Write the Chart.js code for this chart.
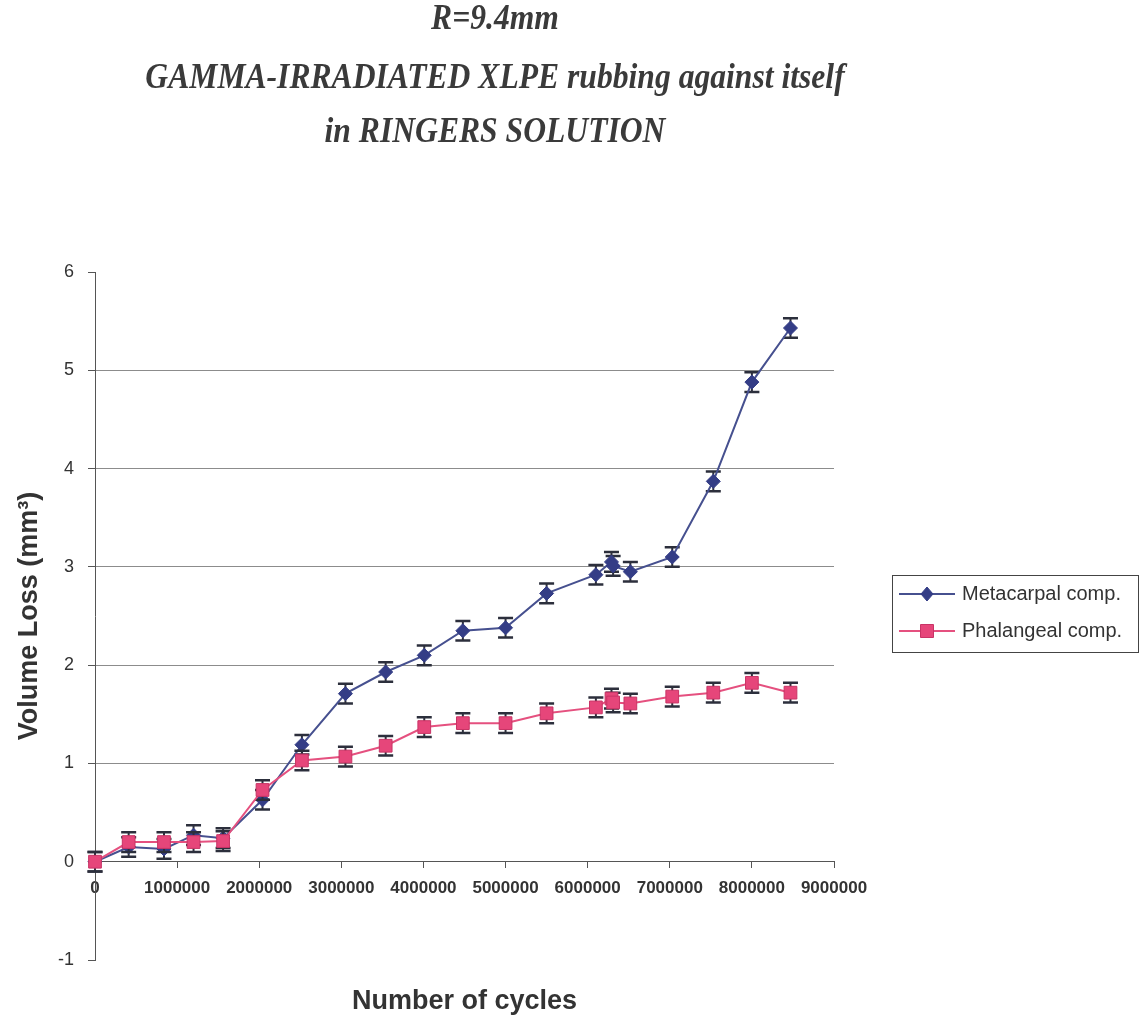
<!DOCTYPE html>
<html>
<head>
<meta charset="utf-8">
<script src="https://cdn.jsdelivr.net/npm/chart.js@4.4.1/dist/chart.umd.min.js"></script>
<style>
  html, body { margin: 0; padding: 0; background: #ffffff; }
  #wrap { width: 1143px; height: 1015px; }
</style>
</head>
<body>
<div id="wrap"><canvas id="c" width="1143" height="1015"></canvas></div>
<script>
// Wear test: cumulative volume loss against number of cycles
const cycles = [0, 410000, 840000, 1200000, 1560000, 2040000, 2520000, 3050000, 3540000, 4010000,
                4480000, 5000000, 5500000, 6100000, 6290000, 6310000, 6520000, 7030000, 7530000, 8000000, 8470000];
const metacarpal = [0, 0.15, 0.13, 0.27, 0.24, 0.63, 1.19, 1.71, 1.93, 2.10,
                    2.35, 2.38, 2.73, 2.92, 3.05, 3.01, 2.95, 3.10, 3.87, 4.88, 5.43];
const metacarpalErr = [0.1, 0.1, 0.1, 0.1, 0.1, 0.1, 0.1, 0.1, 0.1, 0.1,
                       0.1, 0.1, 0.1, 0.1, 0.1, 0.1, 0.1, 0.1, 0.1, 0.1, 0.1];
const phalangeal = [0, 0.20, 0.20, 0.20, 0.21, 0.73, 1.03, 1.07, 1.18, 1.37,
                    1.41, 1.41, 1.51, 1.57, 1.66, 1.62, 1.61, 1.68, 1.72, 1.82, 1.72];
const phalangealErr = [0.1, 0.1, 0.1, 0.1, 0.1, 0.1, 0.1, 0.1, 0.1, 0.1,
                       0.1, 0.1, 0.1, 0.1, 0.1, 0.1, 0.1, 0.1, 0.1, 0.1, 0.1];
const seriesNames = ['Metacarpal comp.', 'Phalangeal comp.'];
const xTicks = [0, 1000000, 2000000, 3000000, 4000000, 5000000, 6000000, 7000000, 8000000, 9000000];
const yTicks = [-1, 0, 1, 2, 3, 4, 5, 6];
const titleLines = ['R=9.4mm', 'GAMMA-IRRADIATED XLPE rubbing against itself', 'in RINGERS SOLUTION'];
const xTitle = 'Number of cycles';
const yTitle = 'Volume Loss (mm\u00B3)';

const SANS = '"Liberation Sans", Arial, sans-serif';
const TEXT = '#333333';
const AXIS = '#555555';

Chart.defaults.font.family = SANS;
Chart.defaults.color = TEXT;

const toPoints = (xs, ys) => xs.map((x, i) => ({ x: x, y: ys[i] }));

// vertical error bars with caps, drawn under each series' line and markers
const errorBars = {
  id: 'errorBars',
  beforeDatasetDraw(chart, args) {
    const ds = chart.data.datasets[args.index];
    if (!ds.errors) return;
    const ys = chart.scales.y;
    const ctx = chart.ctx;
    ctx.save();
    ctx.strokeStyle = '#2c2f3c';
    args.meta.data.forEach((pt, i) => {
      const v = ds.data[i].y, e = ds.errors[i];
      const top = ys.getPixelForValue(v + e);
      const bot = ys.getPixelForValue(v - e);
      ctx.lineWidth = 2;
      ctx.beginPath();
      ctx.moveTo(pt.x, top); ctx.lineTo(pt.x, bot);
      ctx.stroke();
      ctx.lineWidth = 2.5;
      ctx.beginPath();
      ctx.moveTo(pt.x - 7.5, top); ctx.lineTo(pt.x + 7.5, top);
      ctx.moveTo(pt.x - 7.5, bot); ctx.lineTo(pt.x + 7.5, bot);
      ctx.stroke();
    });
    ctx.restore();
  }
};

// three-line heading in bold italic serif, slightly tall letterforms
const heading = {
  id: 'heading',
  afterDraw(chart) {
    const ctx = chart.ctx;
    const ys = [20, 79, 133];
    ctx.save();
    ctx.fillStyle = '#3a3a3a';
    ctx.font = 'italic bold 31px "Liberation Serif", "Times New Roman", serif';
    ctx.textAlign = 'center';
    ctx.textBaseline = 'middle';
    titleLines.forEach((t, i) => {
      ctx.save();
      ctx.translate(495, ys[i]);
      ctx.scale(1.02, 1.18);
      ctx.fillText(t, 0, 0);
      ctx.restore();
    });
    ctx.restore();
  }
};

// boxed legend to the right of the plot
const boxLegend = {
  id: 'boxLegend',
  afterDraw(chart) {
    const ctx = chart.ctx;
    const bx = 892.5, by = 575.5, bw = 246, bh = 77;
    ctx.save();
    ctx.strokeStyle = '#444444';
    ctx.lineWidth = 1;
    ctx.strokeRect(bx, by, bw, bh);
    const rows = [594, 631];
    chart.data.datasets.forEach((ds, i) => {
      const y = rows[i];
      ctx.strokeStyle = ds.borderColor;
      ctx.lineWidth = 2;
      ctx.beginPath();
      ctx.moveTo(899, y); ctx.lineTo(955, y);
      ctx.stroke();
      ctx.fillStyle = ds.pointBackgroundColor;
      ctx.strokeStyle = ds.pointBorderColor;
      ctx.lineWidth = ds.pointBorderWidth;
      ctx.beginPath();
      if (ds.pointStyle === 'rect') {
        ctx.rect(927 - 6.5, y - 6.5, 13, 13);
      } else {
        ctx.moveTo(927 - 6, y); ctx.lineTo(927, y - 7); ctx.lineTo(927 + 6, y); ctx.lineTo(927, y + 7);
        ctx.closePath();
      }
      ctx.fill();
      ctx.stroke();
      ctx.fillStyle = TEXT;
      ctx.font = '20px ' + SANS;
      ctx.textAlign = 'left';
      ctx.textBaseline = 'middle';
      ctx.fillText(ds.label, 962, y);
    });
    ctx.restore();
  }
};

new Chart(document.getElementById('c'), {
  type: 'line',
  data: {
    datasets: [
      {
        label: seriesNames[0],
        data: toPoints(cycles, metacarpal),
        errors: metacarpalErr,
        order: 1,
        borderColor: '#46508f',
        borderWidth: 2,
        pointStyle: 'rectRot',
        pointRadius: 7,
        pointBackgroundColor: '#343d86',
        pointBorderColor: '#343d86',
        pointBorderWidth: 1,
        tension: 0,
        clip: false
      },
      {
        label: seriesNames[1],
        data: toPoints(cycles, phalangeal),
        errors: phalangealErr,
        order: 0,
        borderColor: '#e5507f',
        borderWidth: 2,
        pointStyle: 'rect',
        pointRadius: 9,
        pointBackgroundColor: '#e6467a',
        pointBorderColor: '#c93466',
        pointBorderWidth: 1,
        tension: 0,
        clip: false
      }
    ]
  },
  options: {
    responsive: false,
    animation: false,
    devicePixelRatio: 1,
    layout: { padding: { top: 272, right: 309, bottom: 0, left: 0 } },
    plugins: {
      legend: { display: false },
      title: { display: false },
      tooltip: { enabled: false }
    },
    scales: {
      x: {
        type: 'linear',
        position: { y: 0 },
        min: 0,
        max: 9000000,
        afterBuildTicks: s => { s.ticks = xTicks.map(v => ({ value: v })); },
        ticks: {
          autoSkip: false,
          maxRotation: 0,
          padding: 10,
          color: TEXT,
          font: { size: 17, weight: 'bold' },
          callback: v => String(v)
        },
        grid: { drawOnChartArea: false, drawTicks: true, tickLength: 6, tickColor: AXIS },
        border: { display: true, color: AXIS, width: 1 }
      },
      x2: {
        type: 'linear',
        axis: 'x',
        position: 'bottom',
        min: 0,
        max: 1,
        grid: { display: false, drawTicks: false },
        border: { display: false },
        ticks: { display: false },
        title: {
          display: true,
          text: xTitle,
          color: TEXT,
          font: { size: 27, weight: 'bold', lineHeight: 1 },
          padding: { top: 0, bottom: 0 }
        },
        afterFit: s => { s.height = 55; }
      },
      y: {
        type: 'linear',
        position: 'left',
        min: -1,
        max: 6,
        afterBuildTicks: s => { s.ticks = yTicks.map(v => ({ value: v })); },
        afterFit: s => { s.width = 95; },
        ticks: {
          padding: 14,
          color: TEXT,
          font: { size: 18 },
          callback: v => String(v)
        },
        grid: {
          drawTicks: true,
          tickLength: 7,
          tickColor: AXIS,
          lineWidth: 1,
          color: c => (c.tick && c.tick.value > 0 && c.tick.value < 6) ? '#8c8c8c' : 'rgba(0,0,0,0)'
        },
        border: { display: true, color: AXIS, width: 1 },
        title: {
          display: true,
          text: yTitle,
          color: TEXT,
          font: { size: 27, weight: 'bold', lineHeight: 1.2 },
          padding: { top: 13, bottom: 0 }
        }
      }
    }
  },
  plugins: [errorBars, heading, boxLegend]
});
</script>
</body>
</html>
